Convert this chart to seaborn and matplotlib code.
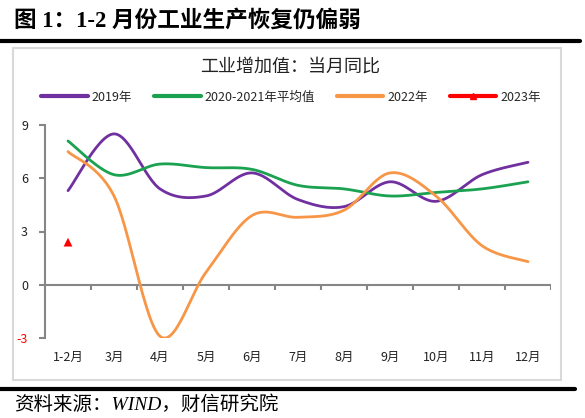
import numpy as np
import pandas as pd
import seaborn as sns
import matplotlib.pyplot as plt
from matplotlib.lines import Line2D
from matplotlib.patches import Rectangle

sns.set_theme(style="white")
plt.rcParams['font.family'] = ['Noto Sans CJK SC', 'DejaVu Sans']
plt.rcParams['axes.unicode_minus'] = False

months = ["1-2月", "3月", "4月", "5月", "6月", "7月", "8月", "9月", "10月", "11月", "12月"]
v2019 = [5.3, 8.5, 5.4, 5.0, 6.3, 4.8, 4.4, 5.8, 4.7, 6.2, 6.9]
v2021avg = [8.1, 6.2, 6.8, 6.6, 6.5, 5.6, 5.4, 5.0, 5.2, 5.4, 5.8]
v2022 = [7.5, 5.0, -2.9, 0.7, 3.9, 3.8, 4.2, 6.3, 5.0, 2.2, 1.3]
v2023 = [2.4]

names = ["2019年", "2020-2021年平均值", "2022年"]
colors = {"2019年": "#7030A0", "2020-2021年平均值": "#1AA251", "2022年": "#F79646"}


def smooth(xs, ys, n=30):
    # excel style smoothed line (bezier through points)
    p = np.column_stack([xs, ys]).astype(float)
    p = np.vstack([p[0], p, p[-1]])
    out = []
    t = np.linspace(0, 1, n)[:, None]
    for i in range(1, len(p) - 2):
        p0, p1 = p[i], p[i + 1]
        c1 = p0 + (p[i + 1] - p[i - 1]) / 6
        c2 = p1 - (p[i + 2] - p[i]) / 6
        seg = (1 - t) ** 3 * p0 + 3 * (1 - t) ** 2 * t * c1 + 3 * (1 - t) * t ** 2 * c2 + t ** 3 * p1
        out.append(seg if i == 1 else seg[1:])
    return np.vstack(out)


dfs = []
for name, vals in zip(names, [v2019, v2021avg, v2022]):
    s = smooth(np.arange(len(vals)), vals)
    dfs.append(pd.DataFrame({"x": s[:, 0], "y": s[:, 1], "series": name}))
df = pd.concat(dfs, ignore_index=True)
df23 = pd.DataFrame({"x": np.arange(len(v2023)), "y": v2023})

fig = plt.figure(figsize=(5.85, 4.18), dpi=100)
ax = fig.add_axes([45 / 585, 1 - 338 / 418, 506 / 585, 213 / 418])

sns.lineplot(data=df, x="x", y="y", hue="series", palette=colors, sort=False,
             estimator=None, linewidth=2.0, legend=False, ax=ax)
sns.scatterplot(data=df23, x="x", y="y", marker="^", color="#FF0000", s=40,
                edgecolor="none", legend=False, ax=ax, zorder=5)

ax.set_xlim(-0.5, len(months) - 0.5)
ax.set_ylim(-3, 9)
ax.set_yticks([-3, 0, 3, 6, 9])
ax.set_yticklabels(["-3", "0", "3", "6", "9"], fontsize=9, color="#222222")
ax.get_yticklabels()[0].set_color("#FF0000")
ax.set_xticks(range(len(months)))
ax.set_xticklabels(months, fontsize=9, color="#222222")
ax.tick_params(axis="x", length=0, pad=9)
ax.tick_params(axis="y", length=4, width=1.5, color="#868686", pad=8.2, left=True)
ax.set_xlabel("")
ax.set_ylabel("")
for sp in ["top", "right", "bottom"]:
    ax.spines[sp].set_visible(False)
ax.spines["left"].set_color("#868686")
ax.spines["left"].set_linewidth(1.5)

# zero line with category separators
ax.axhline(0, color="#868686", lw=1.5, zorder=1)
ax.vlines(np.arange(len(months)) + 0.5, -0.3, 0, color="#868686", lw=1.5, zorder=1)

fig.text(290 / 585, 1 - 67 / 418, "工业增加值：当月同比", ha="center", va="center",
         fontsize=13, color="#222222")

handles = [Line2D([], [], color=colors[n], lw=3) for n in names]
handles.append(Line2D([], [], color="#FF0000", lw=3, marker="^", markersize=5))
labels = names + ["2023年"]
fig.legend(handles, labels, loc="center", bbox_to_anchor=(291 / 585, 1 - 97 / 418),
           ncol=4, frameon=False, fontsize=9, handlelength=3.7, handletextpad=0.3,
           columnspacing=1.8)

# frame and header / footer
fig.patches.append(Rectangle((13 / 585, 1 - 380 / 418), 548 / 585, 332 / 418,
                             transform=fig.transFigure, fill=False,
                             edgecolor="#D9D9D9", lw=1.5))
fig.add_artist(Line2D([0, 580 / 585], [1 - 41 / 418] * 2, color="black", lw=3,
                      transform=fig.transFigure))
fig.add_artist(Line2D([0, 575 / 585], [1 - 389 / 418] * 2, color="black", lw=3,
                      transform=fig.transFigure))
fig.text(14 / 585, 1 - 21 / 418, "图 1：1-2 月份工业生产恢复仍偏弱", ha="left", va="center",
         fontsize=16.3, fontweight="bold", color="black",
         family=['Liberation Serif', 'Noto Sans CJK SC'])
fig.text(14 / 585, 1 - 405 / 418, "资料来源：WIND，财信研究院", ha="left", va="center",
         fontsize=14, style="italic", color="black",
         family=['Liberation Serif', 'Noto Sans CJK SC'])

fig.savefig("out.png", dpi=100)
